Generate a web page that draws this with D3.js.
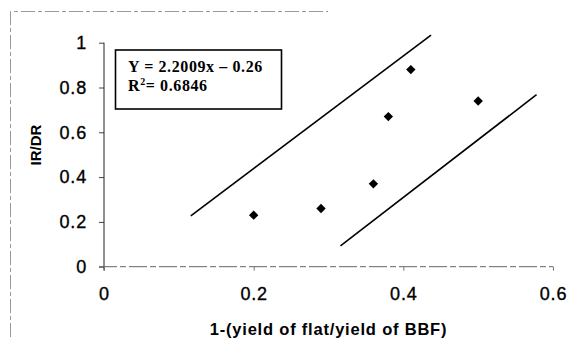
<!DOCTYPE html>
<html>
<head>
<meta charset="utf-8">
<script src="https://cdn.jsdelivr.net/npm/d3@7"></script>
<style>
  html, body { margin: 0; padding: 0; background: #fff; }
  svg { display: block; }
  .tick text { font-family: "Liberation Sans", Arial, sans-serif; font-size: 18px; fill: #000; stroke: #000; stroke-width: 0.35px; letter-spacing: 0.8px; }
</style>
</head>
<body>
<svg id="chart" width="581" height="356"></svg>
<script>
// Observed points: 1-(yield of flat / yield of BBF) vs IR/DR
const xValues = [0.20, 0.29, 0.36, 0.38, 0.41, 0.50];
const yValues = [0.23, 0.26, 0.37, 0.67, 0.88, 0.74];

// Upper and lower boundary lines (endpoints in data units)
const upperX = [0.116, 0.437];
const upperY = [0.227, 1.034];
const lowerX = [0.316, 0.578];
const lowerY = [0.093, 0.768];

const xTicks = [0, 0.2, 0.4, 0.6];
const yTicks = [0, 0.2, 0.4, 0.6, 0.8, 1];

const equationText = "Y = 2.2009x \u2013 0.26";
const r2Value = "0.6846";
const xTitle = "1-(yield of flat/yield of BBF)";
const yTitle = "IR/DR";

const svg = d3.select("#chart");

const x = d3.scaleLinear().domain([0, 0.6]).range([104, 553]);
const y = d3.scaleLinear().domain([0, 1]).range([266.7, 42.7]);

// faint outer frame
svg.append("path")
  .attr("d", "M10.5,337 L10.5,11.5 L328,11.5")
  .attr("fill", "none")
  .attr("stroke", "#999")
  .attr("stroke-width", 1)
  .attr("stroke-dasharray", "14,3,4,3");

// y axis
const yAxis = d3.axisLeft(y).tickValues(yTicks).tickSize(5).tickPadding(12)
  .tickFormat(d3.format("~g"));
const gy = svg.append("g").attr("transform", `translate(${x(0)},0)`).call(yAxis);
gy.select(".domain").remove();
gy.append("line")
  .attr("x1", 0).attr("x2", 0)
  .attr("y1", y(1)).attr("y2", y(0) + 4)
  .attr("stroke", "#222").attr("stroke-width", 1);
gy.selectAll(".tick line").attr("stroke", "#444");

// x axis
const xAxis = d3.axisBottom(x).tickValues(xTicks).tickSize(4).tickPadding(17)
  .tickFormat(d3.format("~g"));
const gx = svg.append("g").attr("transform", `translate(0,${y(0)})`).call(xAxis);
gx.select(".domain").remove();
gx.append("line")
  .attr("x1", x(0) - 5).attr("x2", x(0.6))
  .attr("y1", 0).attr("y2", 0)
  .attr("stroke", "#666").attr("stroke-width", 1)
  .attr("stroke-dasharray", "18,3,6,3");
gx.selectAll(".tick line").attr("stroke", "#777");
gx.selectAll(".tick text").attr("dy", "0.71em");

// boundary lines
const line = d3.line().x(d => x(d[0])).y(d => y(d[1]));
[[upperX, upperY], [lowerX, lowerY]].forEach(([xs, ys]) => {
  svg.append("path")
    .datum(xs.map((v, i) => [v, ys[i]]))
    .attr("d", line)
    .attr("fill", "none")
    .attr("stroke", "#000")
    .attr("stroke-width", 1.6);
});

// diamond markers
const diamond = d3.symbol().type(d3.symbolSquare).size(44);
svg.append("g").selectAll("path")
  .data(xValues.map((v, i) => [v, yValues[i]]))
  .join("path")
  .attr("d", diamond)
  .attr("transform", d => `translate(${x(d[0])},${y(d[1])}) rotate(45)`)
  .attr("fill", "#000");

// equation box
const box = svg.append("g");
box.append("rect")
  .attr("x", 115.5).attr("y", 50)
  .attr("width", 166).attr("height", 59)
  .attr("fill", "#fff")
  .attr("stroke", "#000")
  .attr("stroke-width", 1.6);
const eqFont = '"Liberation Serif", "Times New Roman", serif';
box.append("text")
  .attr("x", 128).attr("y", 72)
  .attr("font-family", eqFont).attr("font-size", 16).attr("font-weight", "bold")
  .attr("letter-spacing", 0.6)
  .text(equationText);
const r2 = box.append("text")
  .attr("x", 128).attr("y", 91)
  .attr("font-family", eqFont).attr("font-size", 16).attr("font-weight", "bold")
  .attr("letter-spacing", 0.6);
r2.append("tspan").text("R");
r2.append("tspan").attr("font-size", 10).attr("dy", -6).text("2");
r2.append("tspan").attr("dy", 6).text("= " + r2Value);

// axis titles
svg.append("text")
  .attr("x", (x(0) + x(0.6)) / 2).attr("y", 335)
  .attr("text-anchor", "middle")
  .attr("font-family", '"Liberation Sans", Arial, sans-serif')
  .attr("font-size", 16.5).attr("font-weight", "bold")
  .attr("letter-spacing", 0.8)
  .text(xTitle);

svg.append("text")
  .attr("transform", "translate(41,145) rotate(-90)")
  .attr("text-anchor", "middle")
  .attr("font-family", '"Liberation Sans", Arial, sans-serif')
  .attr("font-size", 15).attr("font-weight", "bold")
  .text(yTitle);
</script>
</body>
</html>
